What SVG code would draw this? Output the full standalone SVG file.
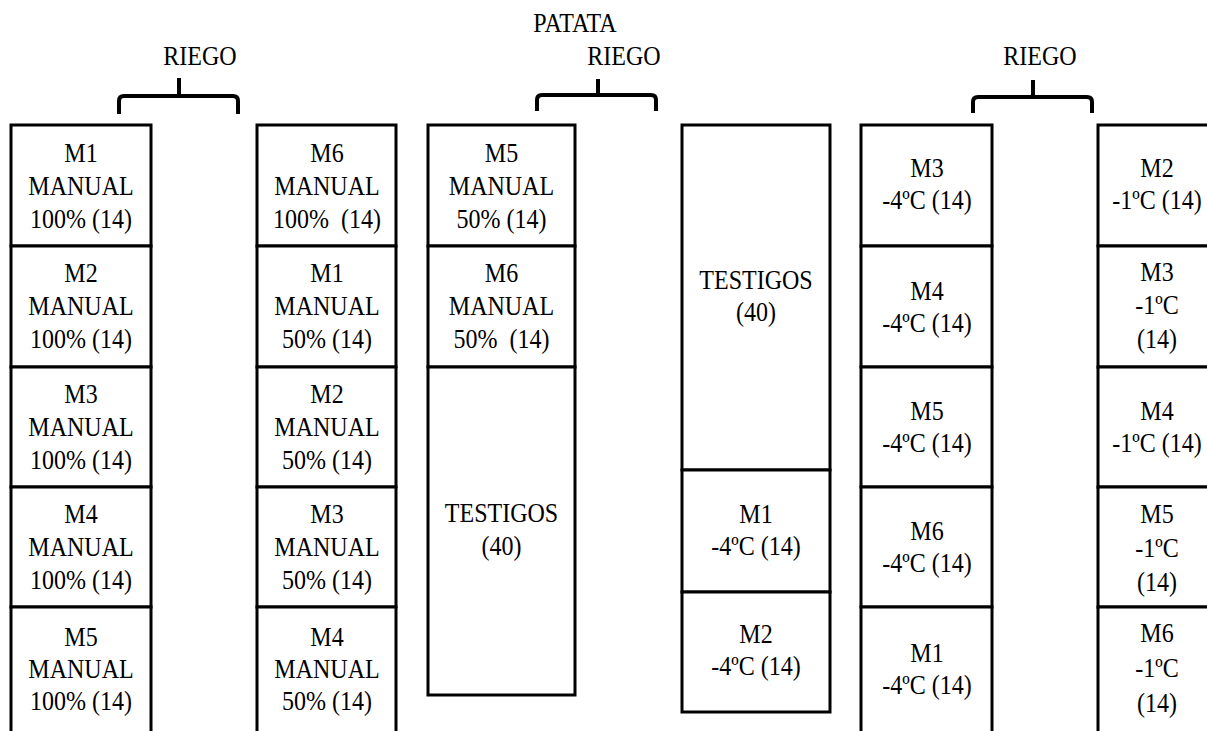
<svg xmlns="http://www.w3.org/2000/svg" width="1207" height="731" viewBox="0 0 1207 731" font-family="Liberation Serif, Tinos, DejaVu Serif, serif">
<style>
.b{fill:#fff;stroke:#000;stroke-width:3}
.t{font-family:'Liberation Serif',Tinos,'DejaVu Serif',serif;font-size:27px;fill:#000;text-anchor:middle;white-space:pre}
.br{fill:none;stroke:#000;stroke-width:4;stroke-linecap:butt}
</style>
<rect width="1207" height="731" fill="#fff"/>
<g id="headers">
<text class="t" transform="translate(575 0) scale(.89 1)" x="0" y="32">PATATA</text>
<text class="t" transform="translate(200 0) scale(.89 1)" x="0" y="65">RIEGO</text>
<text class="t" transform="translate(624 0) scale(.89 1)" x="0" y="65">RIEGO</text>
<text class="t" transform="translate(1040 0) scale(.89 1)" x="0" y="65">RIEGO</text>
</g>
<g id="connectors">
<path class="br" d="M119,114 V101 Q119,96 124,96 H233 Q238,96 238,101 V114 M179,96 V78"/>
<path class="br" d="M537,111 V100 Q537,95 542,95 H651 Q656,95 656,100 V111 M598,95 V79"/>
<path class="br" d="M973,113 V102 Q973,97 978,97 H1087 Q1092,97 1092,102 V113 M1033,97 V80"/>
</g>
<g id="c1r1"><rect class="b" x="11" y="125" width="140" height="121"/><text class="t" transform="translate(81 0) scale(.89 1)"><tspan x="0" y="162">M1</tspan><tspan x="0" y="195">MANUAL</tspan><tspan x="0" y="228">100% (14)</tspan></text></g>
<g id="c1r2"><rect class="b" x="11" y="246" width="140" height="121"/><text class="t" transform="translate(81 0) scale(.89 1)"><tspan x="0" y="282">M2</tspan><tspan x="0" y="315">MANUAL</tspan><tspan x="0" y="348">100% (14)</tspan></text></g>
<g id="c1r3"><rect class="b" x="11" y="367" width="140" height="120"/><text class="t" transform="translate(81 0) scale(.89 1)"><tspan x="0" y="403">M3</tspan><tspan x="0" y="436">MANUAL</tspan><tspan x="0" y="469">100% (14)</tspan></text></g>
<g id="c1r4"><rect class="b" x="11" y="487" width="140" height="120"/><text class="t" transform="translate(81 0) scale(.89 1)"><tspan x="0" y="523">M4</tspan><tspan x="0" y="556">MANUAL</tspan><tspan x="0" y="589">100% (14)</tspan></text></g>
<g id="c1r5"><rect class="b" x="11" y="607" width="140" height="150"/><text class="t" transform="translate(81 0) scale(.89 1)"><tspan x="0" y="646">M5</tspan><tspan x="0" y="678">MANUAL</tspan><tspan x="0" y="710">100% (14)</tspan></text></g>

<g id="c2r1"><rect class="b" x="257" y="125" width="139" height="121"/><text class="t" transform="translate(327 0) scale(.89 1)"><tspan x="0" y="162">M6</tspan><tspan x="0" y="195">MANUAL</tspan><tspan x="0" y="228">100%  (14)</tspan></text></g>
<g id="c2r2"><rect class="b" x="257" y="246" width="139" height="121"/><text class="t" transform="translate(327 0) scale(.89 1)"><tspan x="0" y="282">M1</tspan><tspan x="0" y="315">MANUAL</tspan><tspan x="0" y="348">50% (14)</tspan></text></g>
<g id="c2r3"><rect class="b" x="257" y="367" width="139" height="120"/><text class="t" transform="translate(327 0) scale(.89 1)"><tspan x="0" y="403">M2</tspan><tspan x="0" y="436">MANUAL</tspan><tspan x="0" y="469">50% (14)</tspan></text></g>
<g id="c2r4"><rect class="b" x="257" y="487" width="139" height="120"/><text class="t" transform="translate(327 0) scale(.89 1)"><tspan x="0" y="523">M3</tspan><tspan x="0" y="556">MANUAL</tspan><tspan x="0" y="589">50% (14)</tspan></text></g>
<g id="c2r5"><rect class="b" x="257" y="607" width="139" height="150"/><text class="t" transform="translate(327 0) scale(.89 1)"><tspan x="0" y="646">M4</tspan><tspan x="0" y="678">MANUAL</tspan><tspan x="0" y="710">50% (14)</tspan></text></g>

<g id="c3r1"><rect class="b" x="428" y="125" width="147" height="121"/><text class="t" transform="translate(501.5 0) scale(.89 1)"><tspan x="0" y="162">M5</tspan><tspan x="0" y="195">MANUAL</tspan><tspan x="0" y="228">50% (14)</tspan></text></g>
<g id="c3r2"><rect class="b" x="428" y="246" width="147" height="121"/><text class="t" transform="translate(501.5 0) scale(.89 1)"><tspan x="0" y="282">M6</tspan><tspan x="0" y="315">MANUAL</tspan><tspan x="0" y="348">50%  (14)</tspan></text></g>
<g id="c3r3"><rect class="b" x="428" y="367" width="147" height="328"/><text class="t" transform="translate(501.5 0) scale(.89 1)"><tspan x="0" y="522">TESTIGOS</tspan><tspan x="0" y="555">(40)</tspan></text></g>

<g id="c4r1"><rect class="b" x="682" y="125" width="148" height="345"/><text class="t" transform="translate(756 0) scale(.89 1)"><tspan x="0" y="289">TESTIGOS</tspan><tspan x="0" y="321">(40)</tspan></text></g>
<g id="c4r2"><rect class="b" x="682" y="470" width="148" height="122"/><text class="t" transform="translate(756 0) scale(.89 1)"><tspan x="0" y="523">M1</tspan><tspan x="0" y="555">-4ºC (14)</tspan></text></g>
<g id="c4r3"><rect class="b" x="682" y="592" width="148" height="120"/><text class="t" transform="translate(756 0) scale(.89 1)"><tspan x="0" y="643">M2</tspan><tspan x="0" y="675">-4ºC (14)</tspan></text></g>

<g id="c5r1"><rect class="b" x="861" y="125" width="131" height="121"/><text class="t" transform="translate(927 0) scale(.89 1)"><tspan x="0" y="177">M3</tspan><tspan x="0" y="209">-4ºC (14)</tspan></text></g>
<g id="c5r2"><rect class="b" x="861" y="246" width="131" height="121"/><text class="t" transform="translate(927 0) scale(.89 1)"><tspan x="0" y="300">M4</tspan><tspan x="0" y="332">-4ºC (14)</tspan></text></g>
<g id="c5r3"><rect class="b" x="861" y="367" width="131" height="120"/><text class="t" transform="translate(927 0) scale(.89 1)"><tspan x="0" y="420">M5</tspan><tspan x="0" y="452">-4ºC (14)</tspan></text></g>
<g id="c5r4"><rect class="b" x="861" y="487" width="131" height="120"/><text class="t" transform="translate(927 0) scale(.89 1)"><tspan x="0" y="540">M6</tspan><tspan x="0" y="572">-4ºC (14)</tspan></text></g>
<g id="c5r5"><rect class="b" x="861" y="607" width="131" height="150"/><text class="t" transform="translate(927 0) scale(.89 1)"><tspan x="0" y="662">M1</tspan><tspan x="0" y="694">-4ºC (14)</tspan></text></g>

<g id="c6r1"><rect class="b" x="1098" y="125" width="132" height="121"/><text class="t" transform="translate(1157 0) scale(.89 1)"><tspan x="0" y="177">M2</tspan><tspan x="0" y="209">-1ºC (14)</tspan></text></g>
<g id="c6r2"><rect class="b" x="1098" y="246" width="132" height="121"/><text class="t" transform="translate(1157 0) scale(.89 1)"><tspan x="0" y="281">M3</tspan><tspan x="0" y="314">-1ºC</tspan><tspan x="0" y="348">(14)</tspan></text></g>
<g id="c6r3"><rect class="b" x="1098" y="367" width="132" height="120"/><text class="t" transform="translate(1157 0) scale(.89 1)"><tspan x="0" y="420">M4</tspan><tspan x="0" y="452">-1ºC (14)</tspan></text></g>
<g id="c6r4"><rect class="b" x="1098" y="487" width="132" height="120"/><text class="t" transform="translate(1157 0) scale(.89 1)"><tspan x="0" y="523">M5</tspan><tspan x="0" y="557">-1ºC</tspan><tspan x="0" y="591">(14)</tspan></text></g>
<g id="c6r5"><rect class="b" x="1098" y="607" width="132" height="150"/><text class="t" transform="translate(1157 0) scale(.89 1)"><tspan x="0" y="642">M6</tspan><tspan x="0" y="677">-1ºC</tspan><tspan x="0" y="712">(14)</tspan></text></g>
</svg>
